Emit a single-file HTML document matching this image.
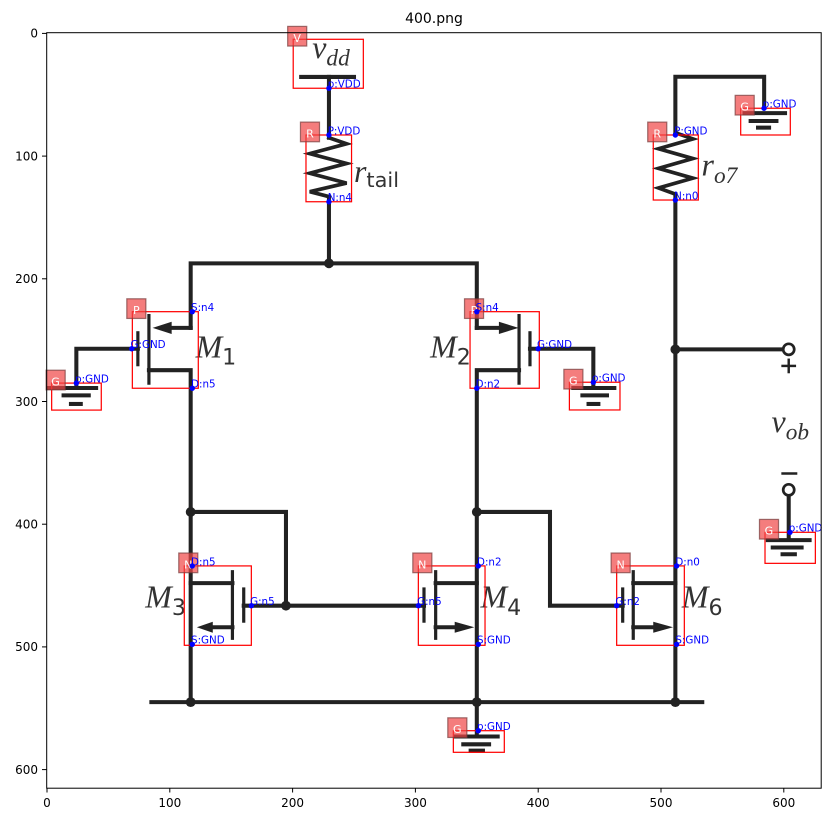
<!DOCTYPE html>
<html><head><meta charset="utf-8">
<style>
html,body{margin:0;padding:0;background:#fff;}
svg{display:block;}
.sans{font-family:"DejaVu Sans","Liberation Sans",sans-serif;}
.serif{font-family:"Liberation Serif","DejaVu Serif",serif;font-style:italic;}
.up{font-family:"DejaVu Sans","Liberation Sans",sans-serif;font-style:normal;}
</style></head>
<body>
<svg id="fig" width="835" height="822" viewBox="0 0 835 822" xmlns="http://www.w3.org/2000/svg">
<text class="sans" x="434" y="23" font-size="14" text-anchor="middle" fill="#000">400.png</text>
<g id="img" transform="translate(47,33.4) scale(1.228,1.227)">
 <rect x="-0.5" y="-0.5" width="631" height="616" fill="#fff"/>
 <g stroke="#222" stroke-width="3.3" fill="none" stroke-linecap="square">
  <line x1="207" y1="35.5" x2="250" y2="35.5"/>
  <line x1="229.6" y1="35.5" x2="229.6" y2="85"/>
  <polyline points="229.6,85 244,90 214,98 244,106 214,114 244,122 214,129 229.6,133" stroke-width="3" stroke-linejoin="miter"/>
  <line x1="229.6" y1="133" x2="229.6" y2="187.4"/>
  <polyline points="117,240 117,187.4 350,187.4 350,240"/>
  <line x1="117" y1="240" x2="100" y2="240"/>
  <line x1="83" y1="230" x2="83" y2="285" stroke-width="2.6"/>
  <line x1="74" y1="244" x2="74" y2="270" stroke-width="2.6"/>
  <polyline points="74,257 23.9,257 23.9,288"/>
  <polyline points="83,274.5 117,274.5 117,545"/>
  <line x1="1.5" y1="289" x2="40" y2="289"/>
  <line x1="13.5" y1="295" x2="34" y2="295"/>
  <line x1="19.5" y1="302" x2="27.5" y2="302"/>
  <line x1="350" y1="240" x2="368" y2="240"/>
  <line x1="384.4" y1="230" x2="384.4" y2="285" stroke-width="2.6"/>
  <line x1="393.3" y1="244" x2="393.3" y2="270" stroke-width="2.6"/>
  <polyline points="393.3,257 444.9,257 444.9,288"/>
  <polyline points="384.4,274.5 350,274.5 350,573"/>
  <line x1="428.6" y1="289" x2="462" y2="289"/>
  <line x1="436" y1="295" x2="456" y2="295"/>
  <line x1="441" y1="302" x2="449" y2="302"/>
  <polyline points="117,390 194.6,390 194.6,466.4"/>
  <line x1="160.2" y1="466.4" x2="307" y2="466.4"/>
  <polyline points="350,390 409.6,390 409.6,466.4 468.8,466.4"/>
  <line x1="117" y1="448" x2="151" y2="448"/>
  <line x1="151" y1="438.7" x2="151" y2="493" stroke-width="2.6"/>
  <line x1="160.2" y1="452.8" x2="160.2" y2="479" stroke-width="2.6"/>
  <line x1="151" y1="484" x2="134" y2="484"/>
  <line x1="350" y1="448" x2="316.5" y2="448"/>
  <line x1="316.5" y1="438.7" x2="316.5" y2="493" stroke-width="2.6"/>
  <line x1="307" y1="452.8" x2="307" y2="479" stroke-width="2.6"/>
  <line x1="316.5" y1="484" x2="332" y2="484"/>
  <polyline points="511.7,448 477.4,448"/>
  <line x1="477.4" y1="438.7" x2="477.4" y2="493" stroke-width="2.6"/>
  <line x1="468.8" y1="452.8" x2="468.8" y2="479" stroke-width="2.6"/>
  <line x1="477.4" y1="484" x2="494" y2="484"/>
  <line x1="85" y1="545" x2="533.6" y2="545"/>
  <line x1="332.8" y1="573" x2="367" y2="573"/>
  <line x1="339" y1="579.4" x2="360" y2="579.4"/>
  <line x1="345" y1="584.6" x2="355" y2="584.6"/>
  <polyline points="584,60 584,35.3 511.7,35.3 511.7,81"/>
  <polyline points="511.7,81 526,86 498,94 526,102 498,110 526,118 498,126 511.7,131" stroke-width="3"/>
  <line x1="511.7" y1="131" x2="511.7" y2="545"/>
  <line x1="568" y1="65" x2="601" y2="65"/>
  <line x1="573" y1="71.4" x2="594" y2="71.4"/>
  <line x1="579" y1="76.8" x2="588" y2="76.8"/>
  <line x1="511.7" y1="257.5" x2="599" y2="257.5"/>
  <line x1="604" y1="377" x2="604" y2="412"/>
  <line x1="587" y1="413" x2="621" y2="413"/>
  <line x1="591" y1="419" x2="614.5" y2="419"/>
  <line x1="599" y1="424.5" x2="609" y2="424.5"/>
  <line x1="599" y1="358.7" x2="610" y2="358.7" stroke-width="2"/>
  <line x1="604" y1="266" x2="604" y2="276" stroke-width="2"/>
  <line x1="599" y1="271" x2="609" y2="271" stroke-width="2"/>
 </g>
 <g fill="#fff" stroke="#222" stroke-width="2.2">
  <circle cx="604" cy="257.5" r="4.5"/>
  <circle cx="604" cy="372" r="4.5"/>
 </g>
 <g fill="#222">
  <polygon points="86,240 101.5,235 101.5,245"/>
  <polygon points="384,240 368,235 368,245"/>
  <polygon points="122,484 135,479.5 135,488.5"/>
  <polygon points="348,484 332,479.5 332,488.5"/>
  <polygon points="509.8,484 493.7,479.5 493.7,488.5"/>
  <circle cx="229.6" cy="187.4" r="4"/>
  <circle cx="117" cy="390" r="4"/>
  <circle cx="350" cy="390" r="4"/>
  <circle cx="194.6" cy="466.4" r="4"/>
  <circle cx="117" cy="545" r="4"/>
  <circle cx="350" cy="545" r="4"/>
  <circle cx="511.7" cy="545" r="4"/>
  <circle cx="511.7" cy="257.5" r="4"/>
 </g>
 <g fill="#333">
  <text class="serif" x="216" y="20" font-size="26">v<tspan font-size="19" dy="6">dd</tspan></text>
  <text class="serif" x="250" y="121" font-size="26">r<tspan class="up" font-size="17" dy="4">tail</tspan></text>
  <text class="serif" x="533" y="116" font-size="26">r<tspan font-size="19" dy="6">o7</tspan></text>
  <text class="serif" x="590" y="325" font-size="26">v<tspan font-size="19" dy="6">ob</tspan></text>
  <text class="serif" x="121" y="264" font-size="26">M<tspan class="up" font-size="18" dy="6">1</tspan></text>
  <text class="serif" x="312" y="264" font-size="26">M<tspan class="up" font-size="18" dy="6">2</tspan></text>
  <text class="serif" x="80" y="468" font-size="26">M<tspan class="up" font-size="18" dy="6">3</tspan></text>
  <text class="serif" x="353" y="468" font-size="26">M<tspan class="up" font-size="18" dy="6">4</tspan></text>
  <text class="serif" x="517" y="468" font-size="26">M<tspan class="up" font-size="18" dy="6">6</tspan></text>
 </g>
 <g id="ann" class="sans"></g>
</g>
<g id="axes" class="sans"></g>
</svg>
<script>
// component boxes: [label, x0, y0, x1, y1]
const boxLabels = ['V','R','P','G','P','G','R','G','G','N','N','N','G'];
const boxX0 = [200.5,210.9,69.5,3.8,344.5,425.4,493.7,564.9,584.7,111.8,302.4,463.9,330.9];
const boxY0 = [4.8,82.8,226.8,285,226.8,284.3,82.8,61,406.6,434,434,434,568.3];
const boxX1 = [257.6,248,123.2,44.2,400.9,466.6,530.4,605.3,625.7,166.4,356.7,519,372.4];
const boxY1 = [44.7,137.2,289.2,307,289.2,306.9,135.8,82.8,431.9,498.7,498.7,498.7,585.9];
// pins
const pinText = ['p:VDD','P:VDD','N:n4','S:n4','G:GND','D:n5','p:GND','S:n4','G:GND','D:n2','o:GND','P:GND','N:n0','p:GND','p:GND','D:n5','G:n5','S:GND','D:n2','G:n5','S:GND','D:n0','G:n2','S:GND','p:GND'];
const pinX = [229.6,229.6,229.6,118.3,69,118.3,23.9,350,400,350,444.9,511.7,511.7,583.9,605,118.3,166.4,118.3,351.2,302.4,351.2,512.7,463.9,512.7,351.2];
const pinY = [44.7,82.8,137.2,226.8,257,289.2,285,226.8,257,289.2,284.3,82.8,135.8,61,406.6,434,466.4,497.9,434,466.4,497.9,434,466.4,497.9,568.3];
const xTicks = [0,100,200,300,400,500,600];
const yTicks = [0,100,200,300,400,500,600];

const NS='http://www.w3.org/2000/svg';
function mk(tag, attrs, parent){const e=document.createElementNS(NS,tag);for(const k in attrs)e.setAttribute(k,attrs[k]);parent.appendChild(e);return e;}
const ann=document.getElementById('ann');
boxLabels.forEach((lab,i)=>{
  const r=mk('rect',{x:boxX0[i],y:boxY0[i],width:boxX1[i]-boxX0[i],height:boxY1[i]-boxY0[i],fill:'none',stroke:'#f00','stroke-width':1},ann);
  
  
  const s=mk('rect',{x:boxX0[i]-4.5,y:boxY0[i]-10.5,width:15.5,height:16,fill:'rgba(240,70,70,0.7)',stroke:'rgba(120,60,60,0.7)','stroke-width':1},ann);
  
  
  const t=mk('text',{x:boxX0[i]+3.2,y:boxY0[i]+2,'font-size':9,'text-anchor':'middle',fill:'#fff'},ann);
  t.textContent=lab;
  
  
});
pinText.forEach((p,i)=>{
  const c=mk('circle',{cx:pinX[i],cy:pinY[i],r:2.2,fill:'#00f'},ann);
  
  
  const t=mk('text',{x:pinX[i]-1,y:pinY[i]-0.5,'font-size':8.4,fill:'#00f'},ann);
  t.textContent=p;
  
  
});
const ax=document.getElementById('axes');
const X=u=>47+u*1.228, Y=v=>33.4+v*1.227;
const f=mk('rect',{x:46.7,y:32.7,width:774.5,height:755.5,fill:'none',stroke:'#000','stroke-width':1},ax);


xTicks.forEach(v=>{
  const l=mk('line',{x1:X(v),x2:X(v),y1:788,y2:792.5,stroke:'#000','stroke-width':1},ax);
  
  
  const t=mk('text',{x:X(v),y:807,'font-size':12,'text-anchor':'middle',fill:'#000'},ax);
  t.textContent=v;
  
  
});
yTicks.forEach(v=>{
  const l=mk('line',{x1:42,x2:46.7,y1:Y(v),y2:Y(v),stroke:'#000','stroke-width':1},ax);
  
  
  const t=mk('text',{x:38,y:Y(v)+4.3,'font-size':12,'text-anchor':'end',fill:'#000'},ax);
  t.textContent=v;
  
  
});
</script>
</body></html>
